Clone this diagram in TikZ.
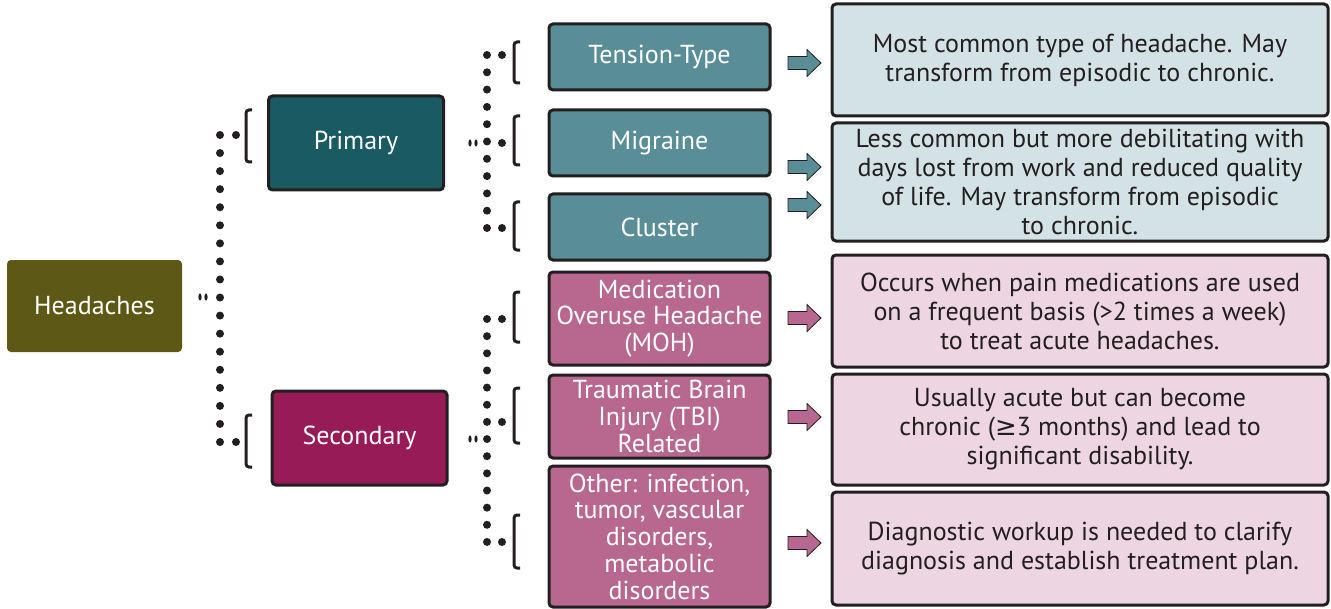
\documentclass[tikz,border=0pt]{standalone}
\usepackage{fontspec}
\setmainfont{PT Sans}
\newfontfamily\symfont{DejaVu Sans}
\definecolor{ink}{HTML}{231F20}
\definecolor{olive}{HTML}{5E5816}
\definecolor{darkteal}{HTML}{1A5A62}
\definecolor{midteal}{HTML}{5A8E96}
\definecolor{paleteal}{HTML}{D2E2E5}
\definecolor{berry}{HTML}{961B56}
\definecolor{midpink}{HTML}{B8688F}
\definecolor{palepink}{HTML}{EDD5E2}
% block arrow: #1 = y of its middle, #2 = fill
\newcommand{\blockarrow}[2]{%
  \filldraw[fill=#2,draw=ink,line width=0.4pt] (788,#1-6.5) -- (807,#1-6.5) -- (807,#1-13.5)
    -- (821,#1) -- (807,#1+13.5) -- (807,#1+6.5) -- (788,#1+6.5) -- cycle;}
% bracket: #1 = x, #2 = top, #3 = bottom
\newcommand{\brkt}[3]{\draw[line width=1.5pt,ink,rounded corners=1.5pt] (#1+6,#2) -- (#1,#2) -- (#1,#3) -- (#1+6,#3);}

\begin{document}
\begin{tikzpicture}[x=0.5pt,y=-0.5pt,
    box/.style={draw=ink,line width=1.5pt,rounded corners=2pt,align=center,inner sep=1pt},
    topbox/.style={box,text=white,font=\fontsize{13}{14.5}\selectfont,minimum width=87.5pt,minimum height=47pt},
    midbox/.style={box,text=white,font=\fontsize{13}{13.4}\selectfont,minimum width=110.5pt},
    descbox/.style={box,text=ink,font=\fontsize{13}{14.5}\selectfont,minimum width=248pt},
    tick/.style={ink,x radius=0.8pt,y radius=1.8pt}]
    \useasboundingbox (0,0) rectangle (1331,609);

    \node[fill=olive,rounded corners=2pt,text=white,font=\fontsize{13}{14.5}\selectfont,
      minimum width=87.5pt,minimum height=46pt] (head) at (94.5,306) {Headaches};
    \node[topbox,fill=darkteal] (prim) at (356,143) {Primary};
    \node[topbox,fill=berry] (sec) at (359.5,438) {Secondary};

    \node[midbox,fill=midteal,minimum height=33pt] (tens) at (659.5,57) {Tension-Type};
    \node[midbox,fill=midteal,minimum height=33pt] (migr) at (659.5,143) {Migraine};
    \node[midbox,fill=midteal,minimum height=33pt] (clus) at (659.5,227) {Cluster};
    \node[midbox,fill=midpink,minimum height=46.5pt] (moh) at (659.5,318.5) {Medication\\Overuse Headache\\(MOH)};
    \node[midbox,fill=midpink,minimum height=41.5pt] (tbi) at (659.5,416.5) {Traumatic Brain\\Injury (TBI)\\Related};
    \node[midbox,fill=midpink,minimum height=70.5pt] (other) at (659.5,536.5) {Other: infection,\\tumor, vascular\\disorders,\\metabolic\\disorders};

    \node[descbox,fill=paleteal,minimum height=56pt] (desc-1) at (1080,60) {Most common type of headache. May\\transform from episodic to chronic.};
    \node[descbox,fill=paleteal,minimum height=59pt] (desc-2) at (1080,182) {Less common but more debilitating with\\days lost from work and reduced quality\\of life. May transform from episodic\\to chronic.};
    \node[descbox,fill=palepink,minimum height=56pt] (desc-3) at (1080,311) {Occurs when pain medications are used\\on a frequent basis (>2 times a week)\\to treat acute headaches.};
    \node[descbox,fill=palepink,minimum height=55.5pt] (desc-4) at (1080,429.5) {Usually acute but can become\\chronic ({\symfont ≥}3 months) and lead to\\significant disability.};
    \node[descbox,fill=palepink,minimum height=56.5pt] (desc-5) at (1080,548.5) {Diagnostic workup is needed to clarify\\diagnosis and establish treatment plan.};

    % dotted trees
    \foreach \k in {0,...,17} \fill[ink] (220,135+18.06*\k) circle (2pt);
    \foreach \k in {0,...,10} \fill[ink] (487,55+17.3*\k) circle (2pt);
    \foreach \k in {0,...,13} \fill[ink] (487,319+17.15*\k) circle (2pt);
    \foreach \x/\y in {236/135,236/442,502/55,502/143,502/228,502/319,502/422,502/542}
      \fill[ink] (\x,\y) circle (2pt);
    \foreach \x/\y in {200/297,206/297,470/143,476/143,470/439,476/439}
      \fill[tick] (\x,\y) ellipse [];

    \foreach \x/\a/\b in {246/110/162,246/415/467,514/42/83,514/116/165,514/202/250,514/292/342,514/388/443,514/515/568}
      {\brkt{\x}{\a}{\b}}

    \foreach \y in {63,167,205} {\blockarrow{\y}{midteal}}
    \foreach \y in {318,417,543} {\blockarrow{\y}{midpink}}
\end{tikzpicture}
\end{document}
